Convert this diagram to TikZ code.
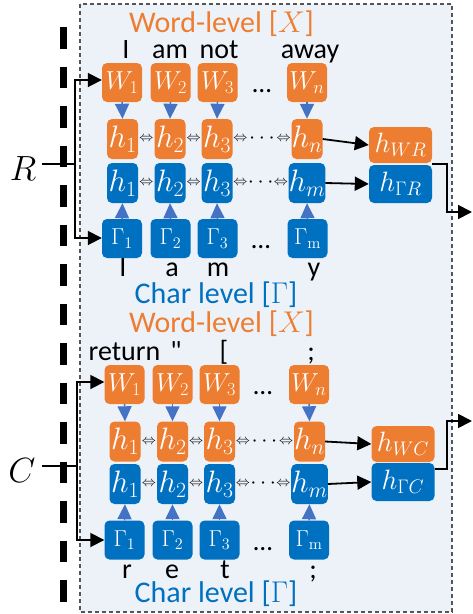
\RequirePackage{fix-cm}
\documentclass[tikz,border=0pt]{standalone}
\usepackage[no-math]{fontspec}
\setmainfont{Carlito}
\newfontfamily\plaincarlito{Carlito}
\usetikzlibrary{arrows.meta,calc}
\definecolor{worange}{HTML}{ED7D31}
\definecolor{cblue}{HTML}{0070C0}
\definecolor{tblue}{HTML}{4472C4}
\definecolor{panel}{HTML}{EDF2F9}
\definecolor{framegray}{HTML}{555555}

\begin{document}
\begin{tikzpicture}[x=1pt,y=-1pt,
  box/.style={rounded corners=5pt, inner sep=0pt, text=white,
    font=\fontsize{31}{31}\selectfont},
  wbox/.style={box, fill=worange, minimum width=40pt, minimum height=39pt,
    font=\fontsize{26}{26}\selectfont},
  gbox/.style={box, fill=cblue, minimum width=40pt, minimum height=39pt,
    font=\fontsize{23}{23}\selectfont},
  hobox/.style={box, fill=worange, minimum width=31pt, minimum height=40pt},
  hbbox/.style={box, fill=cblue, minimum width=31pt, minimum height=40pt},
  owbox/.style={box, fill=worange, minimum width=63pt, minimum height=36pt,
    font=\fontsize{28}{28}\selectfont},
  obbox/.style={box, fill=cblue, minimum width=63pt, minimum height=38pt,
    font=\fontsize{28}{28}\selectfont},
  feed/.style={-{Triangle[length=15pt,width=14pt]}, draw=tblue, fill=tblue, line width=1.5pt},
  link/.style={-{Triangle[length=14pt,width=14pt]}, line width=1.8pt},
  wire/.style={line width=1.8pt},
  title/.style={anchor=base, inner sep=0pt, text height=19pt, text depth=0pt,
    font=\fontsize{30}{30}\selectfont},
  tok/.style={anchor=base, inner sep=0pt, text depth=0pt,
    font=\fontsize{28}{28}\selectfont},
  dotsl/.style={anchor=base, inner sep=0pt, font=\fontsize{27}{27}\selectfont},
  bi/.style={inner sep=0pt, font=\fontsize{14}{14}\selectfont},
  mid/.style={inner sep=0pt, font=\fontsize{22}{22}\selectfont},
  side/.style={inner sep=0pt, font=\fontsize{35}{35}\selectfont},
]
\useasboundingbox (0,0) rectangle (472,614);

% panel
\draw[framegray, line width=1.2pt, dash pattern=on 4pt off 3pt, fill=panel]
  (80,4) rectangle (452,612);

% thick dashed separator
\draw[line width=7pt, dash pattern=on 21.5pt off 18pt] (63.5,27) -- (63.5,602);

% ---------------- upper block (R) ----------------
\node[title, text=worange] (tw1) at (221.5,32) {Word-level [$X$]};
\node[tok] (a1) at (126,58) {I};
\node[tok] (a2) at (170,58) {am};
\node[tok] (a3) at (219,58) {not};
\node[tok] (a4) at (310,58) {away};

\node[wbox] (rw1) at (122,82.5) {$W_1$};
\node[wbox] (rw2) at (170.5,82.5) {$W_2$};
\node[wbox] (rw3) at (217.5,82.5) {$W_3$};
\node[wbox] (rwn) at (307,82.5) {$W_n$};
\node[dotsl] (rwd) at (262,92) {…};

\node[hobox] (rho1) at (122.5,139) {$h_1$};
\node[hobox] (rho2) at (170,139) {$h_2$};
\node[hobox] (rho3) at (217,139) {$h_3$};
\node[hobox] (rhon) at (307,139) {$h_n$};

\node[hbbox] (rhb1) at (122.5,183) {$h_1$};
\node[hbbox] (rhb2) at (170,183) {$h_2$};
\node[hbbox] (rhb3) at (217,183) {$h_3$};
\node[hbbox] (rhbm) at (307,183) {$h_m$};

\node[gbox] (rg1) at (122,238.5) {$\Gamma_1$};
\node[gbox] (rg2) at (170.5,238.5) {$\Gamma_2$};
\node[gbox] (rg3) at (217.5,238.5) {$\Gamma_3$};
\node[gbox] (rgm) at (307.5,238.5) {$\Gamma_{\mathrm{m}}$};
\node[dotsl] (rgd) at (261,248) {…};

\node[tok] (b1) at (123,276) {I};
\node[tok] (b2) at (172,276) {a};
\node[tok] (b3) at (218,276) {m};
\node[tok] (b4) at (314,276) {y};
\node[title, text=cblue] (tc1) at (216,303) {Char level [$\Gamma$]};

\node[owbox] (hwr) at (400.5,145) {$h_{WR}$};
\node[obbox] (hgr) at (400.5,184) {$h_{\Gamma R}$};

% vertical feeds
\foreach \a/\b in {rw1/rho1, rw2/rho2, rw3/rho3, rwn/rhon}
  \draw[feed] (\a.south) -- (\b.north);
\foreach \a/\b in {rg1/rhb1, rg2/rhb2, rg3/rhb3, rgm/rhbm}
  \draw[feed] (\a.north) -- (\b.south);

% bidirectional links
\foreach \a/\b in {rho1/rho2, rho2/rho3, rhb1/rhb2, rhb2/rhb3}
  \path (\a.east) -- node[bi] {$\Leftrightarrow$} (\b.west);
\foreach \a/\b in {rho3/rhon, rhb3/rhbm} {
  \node[bi, anchor=west] at ([xshift=0.5pt]\a.east) {$\Leftrightarrow$};
  \node[bi, anchor=east] at ([xshift=-0.5pt]\b.west) {$\Leftrightarrow$};
  \path (\a.east) -- node[mid] {$\cdots$} (\b.west);
}

\draw[link] (rhon.east) -- (hwr.west);
\draw[link] (rhbm.east) -- (hgr.west);

% input R
\node[side] (R) at (23,169) {$R$};
\coordinate (rt) at (75,80);
\coordinate (rb) at (75,238);
\draw[wire] (42,164) -- (75,164);
\draw[wire] (rt) -- (rb);
\draw[link] ([xshift=-0.9pt]rt) -- (rt -| rw1.west);
\draw[link] ([xshift=-0.9pt]rb) -- (rb -| rg1.west);

% output R
\coordinate (ro) at ($(hwr.south east)!0.5!(hgr.north east)$);
\coordinate (rout) at (472,212);
\draw[link] (ro) -| (447,212) -- (rout);

% ---------------- lower block (C) ----------------
\node[title, text=worange] (tw2) at (221.5,332) {Word-level [$X$]};
\node[tok] (c1) at (124.5,360) {return};
\node[tok] (c2) at (176,360) {\plaincarlito "};
\node[tok] (c3) at (224,360) {[};
\node[tok] (c4) at (311,360) {;};

\node[wbox] (cw1) at (124.5,384.5) {$W_1$};
\node[wbox] (cw2) at (172.5,384.5) {$W_2$};
\node[wbox] (cw3) at (219.5,384.5) {$W_3$};
\node[wbox] (cwn) at (309,384.5) {$W_n$};
\node[dotsl] (cwd) at (263,394) {…};

\node[hobox] (cho1) at (125,441.5) {$h_1$};
\node[hobox] (cho2) at (172.5,441.5) {$h_2$};
\node[hobox] (cho3) at (219.5,441.5) {$h_3$};
\node[hobox] (chon) at (309.5,441.5) {$h_n$};

\node[hbbox] (chb1) at (125,484) {$h_1$};
\node[hbbox] (chb2) at (172.5,484) {$h_2$};
\node[hbbox] (chb3) at (219.5,484) {$h_3$};
\node[hbbox] (chbm) at (309.5,484) {$h_m$};

\node[gbox] (cg1) at (124.5,540) {$\Gamma_1$};
\node[gbox] (cg2) at (172.5,540) {$\Gamma_2$};
\node[gbox] (cg3) at (219.5,540) {$\Gamma_3$};
\node[gbox] (cgm) at (309,540) {$\Gamma_{\mathrm{m}}$};
\node[dotsl] (cgd) at (263,550) {…};

\node[tok] (d1) at (127,578) {r};
\node[tok] (d2) at (172,578) {e};
\node[tok] (d3) at (225,578) {t};
\node[tok] (d4) at (313,578) {;};
\node[title, text=cblue] (tc2) at (216,602) {Char level [$\Gamma$]};

\node[owbox] (hwc) at (403,444) {$h_{WC}$};
\node[obbox] (hgc) at (403,482) {$h_{\Gamma C}$};

\foreach \a/\b in {cw1/cho1, cw2/cho2, cw3/cho3, cwn/chon}
  \draw[feed] (\a.south) -- (\b.north);
\foreach \a/\b in {cg1/chb1, cg2/chb2, cg3/chb3, cgm/chbm}
  \draw[feed] (\a.north) -- (\b.south);

\foreach \a/\b in {cho1/cho2, cho2/cho3, chb1/chb2, chb2/chb3}
  \path (\a.east) -- node[bi] {$\Leftrightarrow$} (\b.west);
\foreach \a/\b in {cho3/chon, chb3/chbm} {
  \node[bi, anchor=west] at ([xshift=0.5pt]\a.east) {$\Leftrightarrow$};
  \node[bi, anchor=east] at ([xshift=-0.5pt]\b.west) {$\Leftrightarrow$};
  \path (\a.east) -- node[mid] {$\cdots$} (\b.west);
}

\draw[link] (chon.east) -- (hwc.west);
\draw[link] (chbm.east) -- (hgc.west);

% input C
\node[side] (C) at (22,471) {$C$};
\coordinate (ct) at (77,382);
\coordinate (cb) at (77,540);
\draw[wire] (42,466) -- (77,466);
\draw[wire] (ct) -- (cb);
\draw[link] ([xshift=-0.9pt]ct) -- (ct -| cw1.west);
\draw[link] ([xshift=-0.9pt]cb) -- (cb -| cg1.west);

% output C
\coordinate (co) at (hgc.north east);
\coordinate (cout) at (472,421);
\draw[link] ([yshift=-6pt]co) -| (447,421) -- (cout);
\end{tikzpicture}
\end{document}
